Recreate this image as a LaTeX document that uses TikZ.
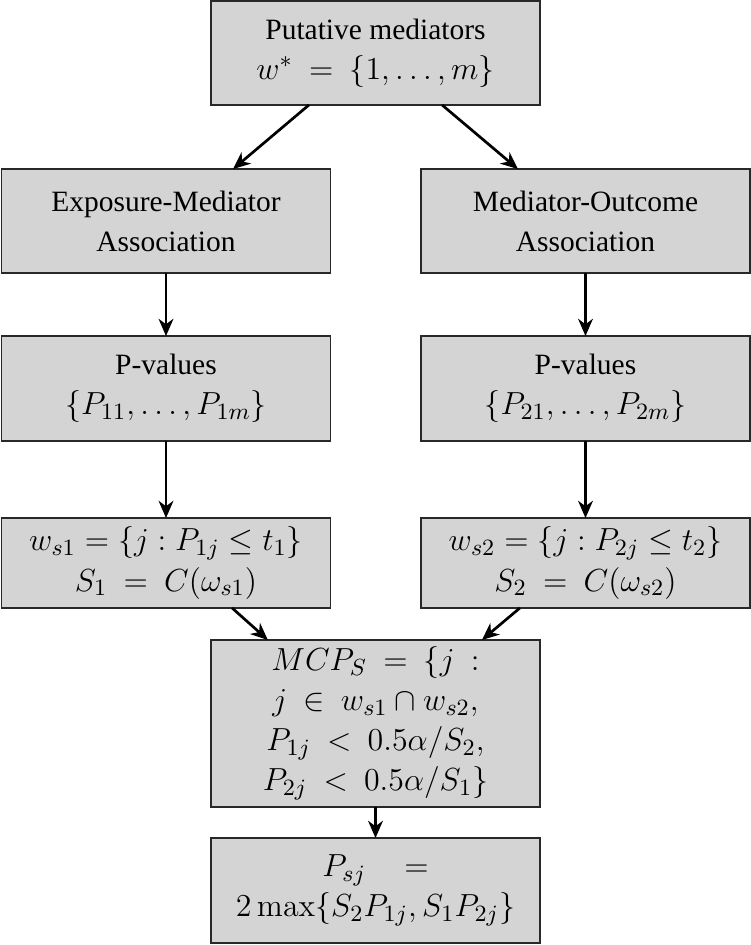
\RequirePackage{fix-cm}
\documentclass[tikz,border=0pt,12pt]{standalone}
\usepackage[no-math]{fontspec}
\setmainfont[Scale=0.923]{Liberation Serif}
\DeclareMathSizes{13}{13}{9.5}{7}
\usetikzlibrary{arrows.meta}
\definecolor{boxfill}{RGB}{212,212,212}
\definecolor{boxline}{RGB}{40,40,40}
\begin{document}
\begin{tikzpicture}[x=0.407pt,y=-0.407pt,
    box/.style={draw=boxline,line width=0.6pt,fill=boxfill,align=center,
      inner sep=0pt,outer sep=0pt,minimum width=133.9pt,
      font=\fontsize{13}{16.3}\selectfont},
    flow/.style={-{Stealth[length=7pt,width=6pt,inset=2.2pt]},line width=1.1pt}]
      \useasboundingbox (0,0) rectangle (751,945);
      \draw
        (375.5,53) node[box,minimum height=42.3pt] (top){Putative mediators\\$w^{*}\ =\ \{1,\ldots,m\}$}
        (166,221) node[box,minimum height=42.3pt] (ema){Exposure-Mediator\\Association}
        (585.5,221) node[box,minimum height=42.3pt] (moa){Mediator-Outcome\\Association}
        (166,388.5) node[box,minimum height=42.7pt] (pv1){P-values\\$\{P_{11},\ldots,P_{1m}\}$}
        (585.5,388.5) node[box,minimum height=42.7pt] (pv2){P-values\\$\{P_{21},\ldots,P_{2m}\}$}
        (166,563) node[box,minimum height=36.6pt] (ws1){$w_{s1}=\{j:P_{1j}\leq t_1\}$\\$S_1\ =\ C(\omega_{s1})$}
        (585.5,563) node[box,minimum height=36.6pt] (ws2){$w_{s2}=\{j:P_{2j}\leq t_2\}$\\$S_2\ =\ C(\omega_{s2})$}
        (375.5,723.5) node[box,minimum height=68pt] (mcp){$MCP_S\ =\ \{j\ :$\\$j\ \in\ w_{s1}\cap w_{s2},$\\$P_{1j}\ <\ 0.5\alpha/S_2,$\\$P_{2j}\ <\ 0.5\alpha/S_1\}$}
        (375.5,890.5) node[box,minimum height=42.7pt] (psj){$P_{sj}\quad=$\\$2\max\{S_2P_{1j},S_1P_{2j}\}$};
      \begin{scope}[flow]
        \draw ([xshift=-27.1pt]top.south) to ([xshift=27.3pt]ema.north);
        \draw ([xshift=27.1pt]top.south) to ([xshift=-27.5pt]moa.north);
        \draw (ema) to (pv1);
        \draw (moa) to (pv2);
        \draw (pv1) to (ws1);
        \draw (pv2) to (ws2);
        \draw ([xshift=26.9pt]ws1.south) to ([xshift=-43.8pt]mcp.north);
        \draw ([xshift=-26.7pt]ws2.south) to ([xshift=43.3pt]mcp.north);
        \draw (mcp) to (psj);
      \end{scope}
    \end{tikzpicture}
\end{document}
